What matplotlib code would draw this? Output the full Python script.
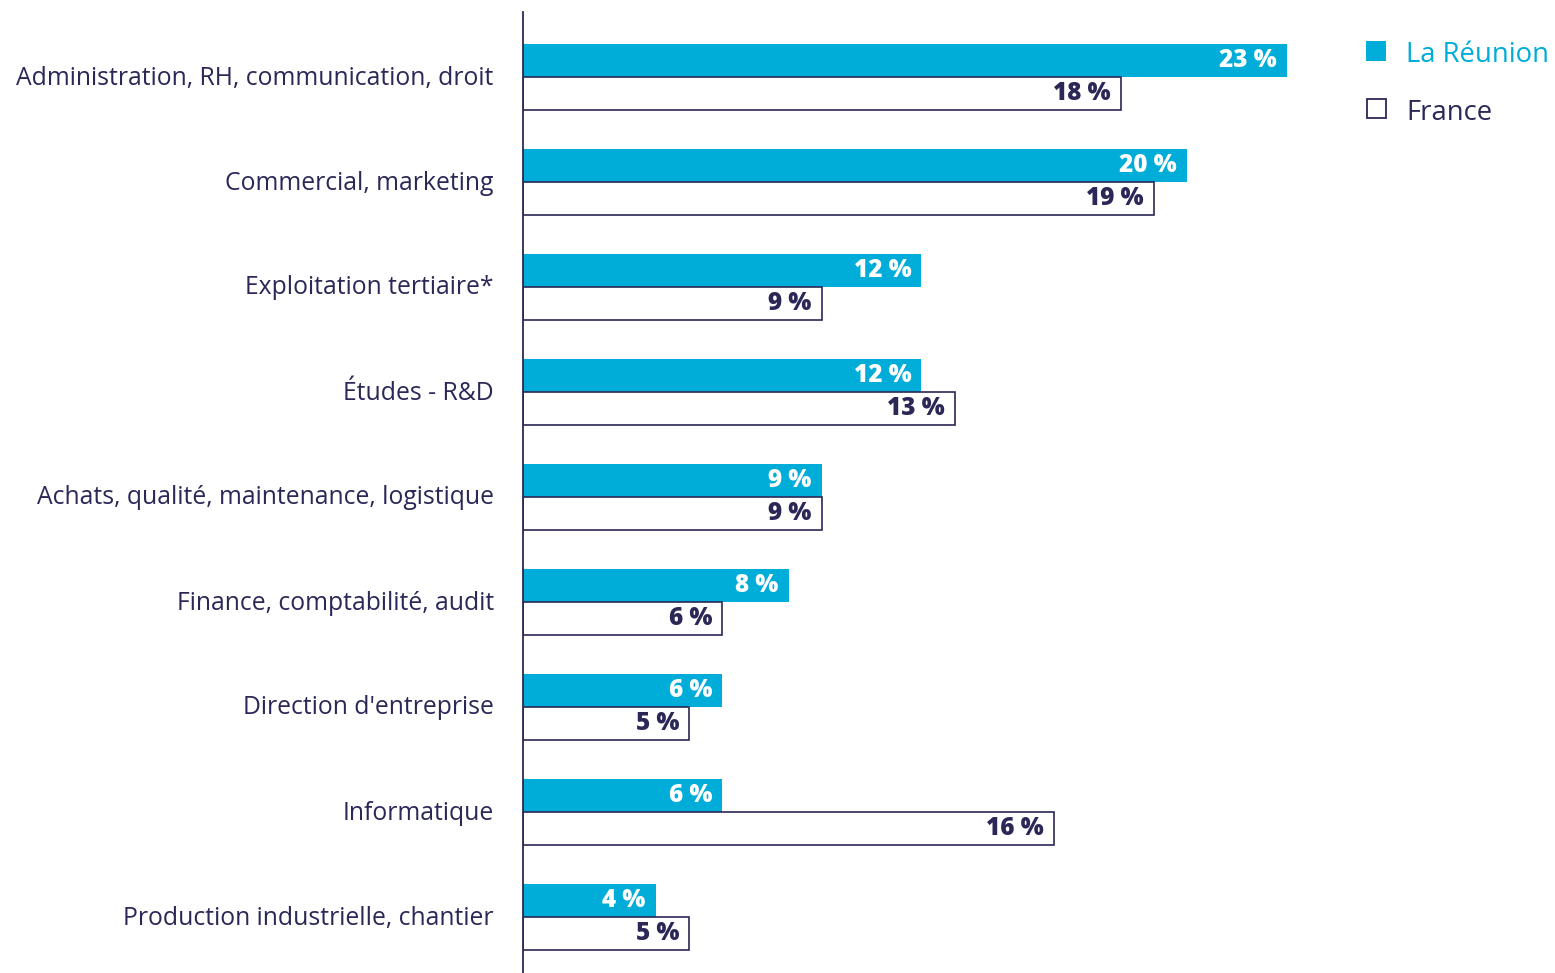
import matplotlib
matplotlib.use("Agg")
import matplotlib.pyplot as plt
from matplotlib.patches import Rectangle
from matplotlib.transforms import ScaledTranslation

categories = [
    "Administration, RH, communication, droit",
    "Commercial, marketing",
    "Exploitation tertiaire*",
    "Études - R&D",
    "Achats, qualité, maintenance, logistique",
    "Finance, comptabilité, audit",
    "Direction d'entreprise",
    "Informatique",
    "Production industrielle, chantier",
]
reunion = [23, 20, 12, 12, 9, 8, 6, 6, 4]
france = [18, 19, 9, 13, 9, 6, 5, 16, 5]
series_names = ["La Réunion", "France"]

CYAN = "#00ACD8"
NAVY = "#2B2858"
FONT = ["Open Sans", "DejaVu Sans"]

W, H = 1555, 973
fig = plt.figure(figsize=(W / 100, H / 100), dpi=100)
ax_left, ax_right, ax_top, ax_bot = 523, 1300, 12, 973
ax = fig.add_axes([ax_left / W, 1 - ax_bot / H, (ax_right - ax_left) / W, (ax_bot - ax_top) / H])

px_per_unit = 105.0
bh = 33.0 / px_per_unit
ys = list(range(len(categories)))

ax.barh([y - bh / 2 for y in ys], reunion, height=bh, color=CYAN, edgecolor="none", zorder=2)
ax.barh([y + bh / 2 for y in ys], france, height=bh, color="white", edgecolor=NAVY, linewidth=1.2, zorder=2)

ax.set_xlim(0, (ax_right - ax_left) / 33.2)
ax.set_ylim(8 + 56 / px_per_unit, -(77 - 12) / px_per_unit)

for s in ["top", "right", "bottom"]:
    ax.spines[s].set_visible(False)
ax.spines["left"].set_color(NAVY)
ax.spines["left"].set_linewidth(1.3)
ax.set_xticks([])
ax.set_yticks(ys)
ax.set_yticklabels(categories, family=FONT, fontsize=17.8, color=NAVY)
ax.tick_params(axis="y", length=0, pad=21)
shift_up = ScaledTranslation(0, 2 / 100, fig.dpi_scale_trans)
for lab in ax.get_yticklabels():
    lab.set_transform(lab.get_transform() + shift_up)

off = 10 / 33.2
for y, r, f in zip(ys, reunion, france):
    ax.text(r - off, y - bh / 2, f"{r} %", ha="right", va="center", color="white",
            family=FONT, fontsize=17.5, fontweight="heavy", zorder=3)
    ax.text(f - off, y + bh / 2, f"{f} %", ha="right", va="center", color=NAVY,
            family=FONT, fontsize=17.5, fontweight="heavy", zorder=3)

# legend
fig.patches.append(Rectangle((1366 / W, 1 - 61 / H), 20 / W, 20 / H, transform=fig.transFigure,
                             facecolor=CYAN, edgecolor="none"))
fig.patches.append(Rectangle((1367 / W, 1 - 118 / H), 19 / W, 19 / H, transform=fig.transFigure,
                             facecolor="white", edgecolor=NAVY, linewidth=1.3))
fig.text(1406 / W, 1 - 55 / H, series_names[0], ha="left", va="center", color=CYAN,
         family=FONT, fontsize=19.8)
fig.text(1406 / W, 1 - 113 / H, series_names[1], ha="left", va="center", color=NAVY,
         family=FONT, fontsize=19.8)

fig.savefig("out.png", dpi=100)
